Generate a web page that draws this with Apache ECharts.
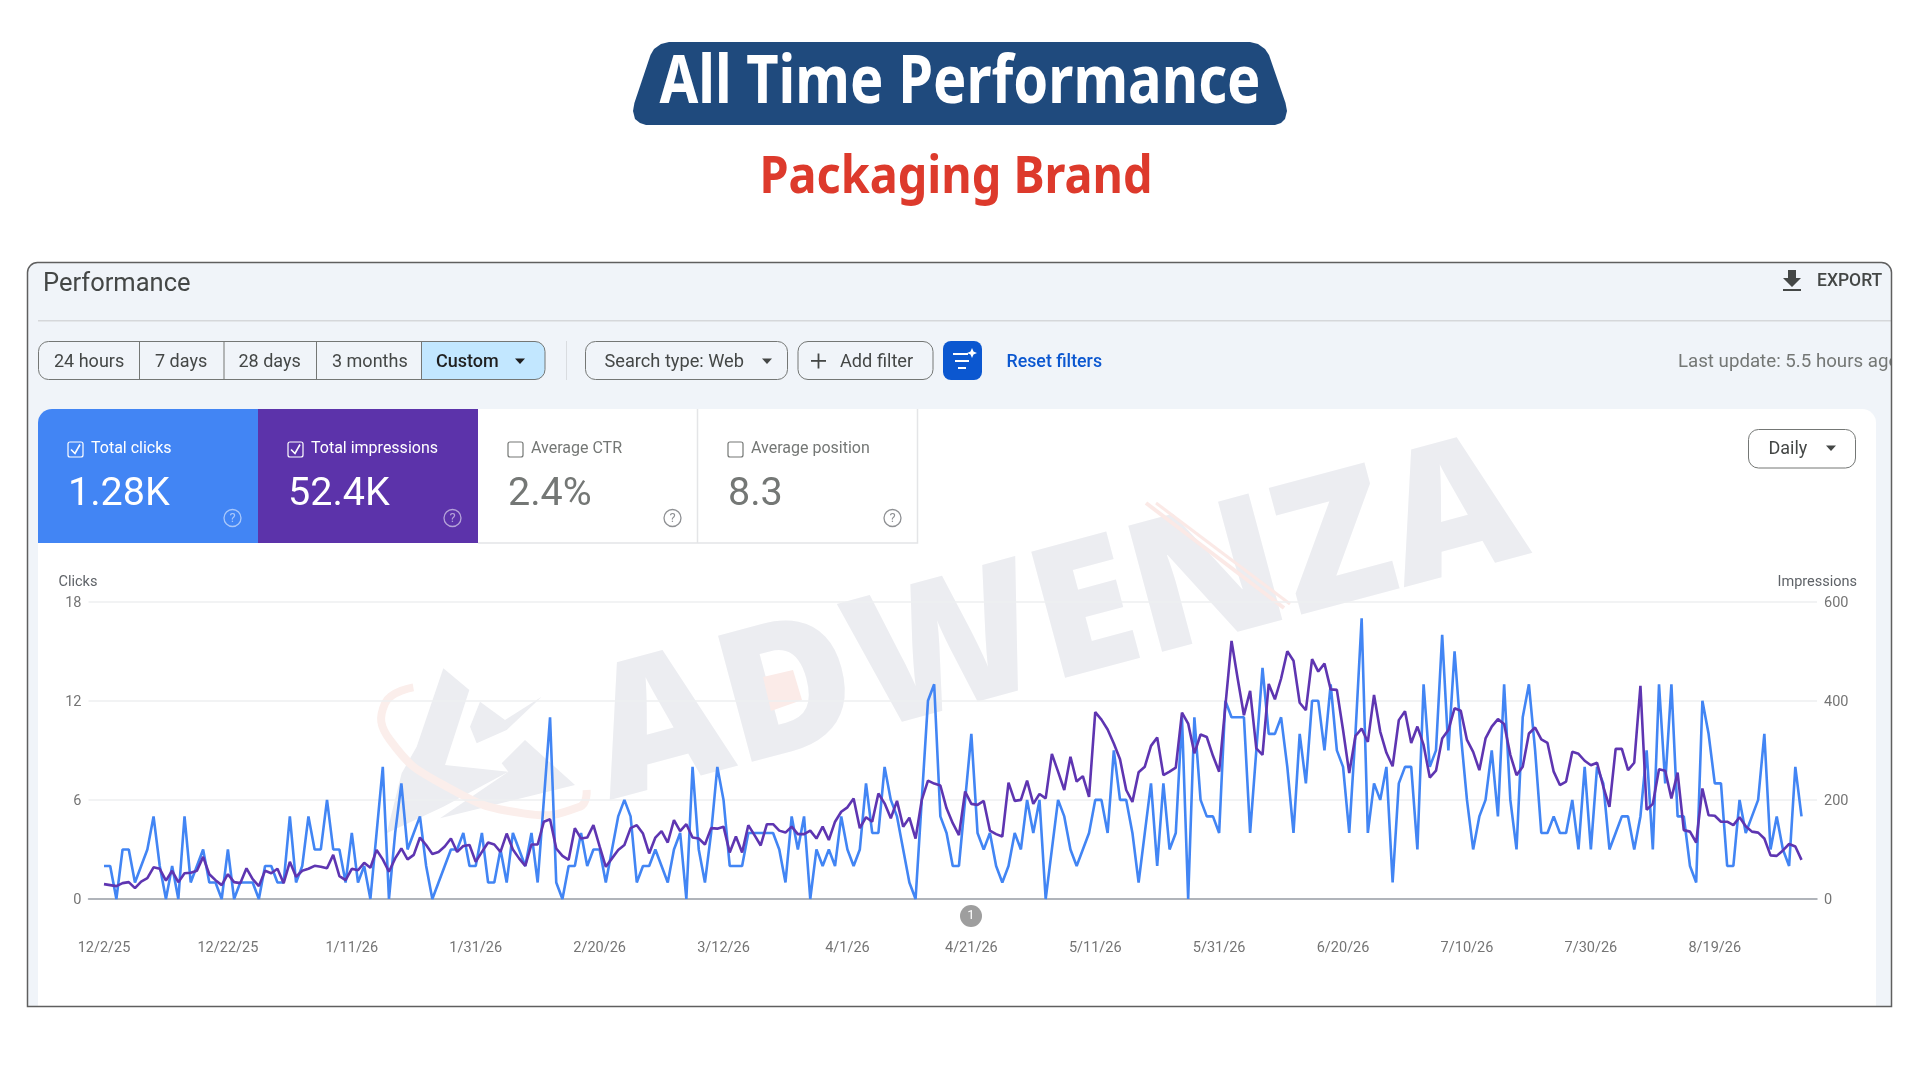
<!DOCTYPE html>
<html>
<head>
<meta charset="utf-8">
<title>All Time Performance</title>
<script src="https://cdn.jsdelivr.net/npm/echarts@6/dist/echarts.min.js"></script>
<style>
    html, body { margin: 0; padding: 0; background: #fff; }
    #chart { width: 1920px; height: 1080px; }
</style>
</head>
<body>
<div id="chart"></div>
<script>
// tick labels of the date axis, one every 20 days
const tickLabels = ['12/2/25', '12/22/25', '1/11/26', '1/31/26', '2/20/26', '3/12/26', '4/1/26', '4/21/26',
    '5/11/26', '5/31/26', '6/20/26', '7/10/26', '7/30/26', '8/19/26'];

// daily values, first one is 12/2/25
const clicks = [
    2, 2, 0, 3, 3, 1, 2, 3, 5, 2, 0, 2, 0, 5, 1, 2, 3, 1, 1, 0, 3, 0, 1, 1, 1, 0, 2, 2, 1, 1, 5, 1, 2, 5, 3, 3, 6, 3, 3, 1, 4, 1, 2, 0, 4, 8,
    0, 4, 7, 3, 4, 5, 2, 0, 1, 2, 3, 3, 4, 2, 2, 4, 1, 1, 3, 1, 4, 3, 2, 4, 1, 6, 11, 1, 0, 2, 2, 4, 2, 3, 3, 1, 3, 5, 6, 5, 1, 2, 2, 3, 2, 1,
    3, 4, 0, 8, 3, 1, 4, 8, 6, 2, 2, 2, 4, 4, 4, 4, 4, 3, 1, 5, 3, 5, 0, 3, 2, 3, 2, 5, 3, 2, 3, 7, 4, 4, 8, 6, 5, 3, 1, 0, 6, 12, 13, 5, 4, 2,
    2, 6, 10, 4, 3, 4, 2, 1, 2, 4, 3, 6, 4, 6, 0, 3, 6, 5, 3, 2, 3, 4, 6, 6, 4, 9, 6, 6, 4, 1, 4, 7, 2, 7, 3, 4, 11, 0, 11, 6, 5, 5, 4, 12, 11, 11,
    11, 4, 9, 14, 10, 10, 11, 8, 4, 10, 7, 12, 12, 9, 13, 9, 8, 4, 10, 17, 4, 7, 6, 8, 1, 7, 8, 8, 3, 13, 8, 9, 16, 9, 15, 10, 6, 3, 5, 6, 9, 5, 13, 6, 3, 11,
    13, 9, 4, 4, 5, 4, 4, 6, 3, 8, 3, 8, 7, 3, 4, 5, 5, 3, 5, 9, 3, 13, 7, 13, 5, 5, 2, 1, 12, 10, 7, 7, 2, 2, 6, 4, 5, 6, 10, 3, 5, 3, 2, 8, 5
];

const impressions = [
    30, 28, 26, 32, 34, 22, 35, 42, 64, 61, 37, 57, 34, 52, 53, 57, 85, 50, 38, 28, 50, 34, 32, 62, 40, 26, 57, 52, 61, 32, 75, 45, 57, 61, 67, 65, 62, 89, 46, 38, 61, 58, 73, 63, 99, 80,
    55, 82, 102, 80, 89, 124, 109, 91, 95, 106, 122, 95, 107, 109, 75, 95, 114, 110, 95, 132, 100, 82, 67, 110, 110, 156, 161, 102, 87, 79, 143, 122, 124, 149, 106, 65, 82, 99, 109, 143, 149, 132, 92, 124, 137, 114,
    159, 137, 151, 124, 122, 110, 143, 142, 146, 94, 126, 94, 149, 129, 108, 151, 151, 138, 134, 146, 131, 131, 138, 122, 146, 119, 156, 176, 185, 203, 143, 165, 156, 213, 193, 163, 198, 146, 164, 122, 200, 239, 233, 229, 183, 153,
    129, 217, 192, 190, 198, 138, 131, 126, 235, 198, 200, 239, 192, 212, 203, 293, 257, 220, 287, 237, 248, 206, 377, 362, 342, 314, 282, 220, 196, 256, 267, 309, 326, 250, 257, 265, 376, 354, 294, 332, 327, 289, 257, 389, 521, 444,
    371, 420, 304, 291, 434, 403, 445, 500, 481, 396, 381, 484, 459, 475, 423, 422, 341, 254, 329, 344, 317, 412, 338, 295, 268, 361, 379, 315, 348, 311, 245, 259, 324, 341, 385, 380, 321, 297, 260, 324, 348, 363, 353, 291, 250, 267,
    334, 346, 322, 315, 257, 230, 237, 297, 293, 279, 270, 275, 227, 186, 303, 303, 260, 275, 430, 180, 192, 262, 259, 203, 255, 139, 136, 114, 223, 169, 168, 156, 156, 149, 165, 147, 136, 134, 122, 88, 87, 98, 111, 106, 79
];

const CLICKS_COLOR = '#4285F4';
const IMPRESSIONS_COLOR = '#5E35B1';
const UI_FONT = 'Roboto, Arial, sans-serif';
const HEAD_FONT = '"Noto Sans", Roboto, sans-serif';

// two empty days on both sides, the gridlines run a bit past the first and last point
const pad = [null, null];
const days = ['', ''];
for (let i = 0; i < clicks.length; i++) {
    let d = new Date(2025, 11, 2 + i);
    days.push(`${d.getMonth() + 1}/${d.getDate()}/${String(d.getFullYear()).slice(2)}`);
}
days.push('', ' ');

const text = function (x, y, value, size, color, extra = {}) {
    return {
        type: 'text', x: x, y: y, z: extra.z || 5, silent: true,
        scaleX: extra.scaleX || 1,
        style: {
            text: value, fontSize: size, fill: color,
            fontFamily: extra.family || UI_FONT,
            fontWeight: extra.weight || 'normal',
            textAlign: extra.align || 'left',
            textVerticalAlign: 'middle'
        }
    };
};

const box = function (x, y, w, h, fill, extra = {}) {
    return {
        type: 'rect', z: extra.z || 3, silent: true,
        shape: { x: x, y: y, width: w, height: h, r: extra.r || 0 },
        style: { fill: fill, stroke: extra.stroke || null, lineWidth: extra.lineWidth || 1 }
    };
};

const poly = function (points, fill, z = 5) {
    return { type: 'polygon', z: z, silent: true, shape: { points: points }, style: { fill: fill } };
};

const line = function (points, stroke, width, z = 5, smooth = 0) {
    return {
        type: 'polyline', z: z, silent: true, shape: { points: points, smooth: smooth },
        style: { stroke: stroke, lineWidth: width, fill: null }
    };
};

const caret = function (x, y, color) {
    return poly([[x - 5, y - 2.5], [x + 5, y - 2.5], [x, y + 3]], color);
};

// metric tile at the top of the white panel
const tile = function (x, fill, label, value, checked) {
    let textColor = checked ? '#fff' : '#747775';
    let faint = checked ? 'rgba(255,255,255,0.55)' : '#8f9194';
    let items = [];
    if (checked) {
        items.push(box(x, 409, 220, 134, fill, { r: x < 100 ? [14, 0, 0, 0] : 0 }));
        items.push(line([[x + 33, 449.5], [x + 37, 453.5], [x + 42, 444.5]], '#fff', 1.6));
    } else {
        items.push(box(x, 409, 220, 134, '#fff'));
        items.push(line([[x + 219.5, 409], [x + 219.5, 543], [x, 543]], '#E4E5E7', 1.5, 4));
    }
    items.push(box(x + 30, 442, 15, 15, 'transparent', { r: 2, stroke: checked ? '#fff' : '#747775', lineWidth: 1.2, z: 5 }));
    items.push(text(x + 53, 449, label, 16, textColor));
    items.push(text(x + 30, 495, value, 39.5, textColor));
    items.push({
        type: 'circle', z: 5, silent: true, shape: { cx: x + 194.5, cy: 518, r: 8.5 },
        style: { fill: 'transparent', stroke: faint, lineWidth: 1.3 }
    });
    items.push(text(x + 194.5, 518.5, '?', 13, faint, { align: 'center' }));
    return items;
};

const buildGraphic = function () {
    let g = [];

    // headline
    g.push(poly([[669, 42], [1250, 42], [1258, 44], [1265, 49], [1269, 55], [1285.5, 103], [1287, 111], [1285, 119], [1281, 123], [1275, 125],
        [646, 125], [640, 123], [635, 119], [633, 111], [634.4, 103], [650.5, 55], [654, 49], [661, 44]], '#1F4A7D'));
    g.push(text(960, 84, 'All Time Performance', 66, '#fff', { align: 'center', weight: 'bold', scaleX: 0.85, family: HEAD_FONT }));
    g.push(text(956, 178, 'Packaging Brand', 52, '#DD3A2C', { align: 'center', weight: 'bold', scaleX: 0.9, family: HEAD_FONT }));

    // panel background
    g.push(box(27.5, 262.5, 1864, 744, '#F0F4F9', { r: [10, 10, 0, 0], z: -30 }));
    g.push(box(38, 409, 1838, 597, '#fff', { r: [14, 14, 0, 0], z: -29 }));
    g.push(box(38, 320, 1854, 1.5, '#D5D7DA'));
    g.push(text(43, 285, 'Performance', 25.5, '#444746'));

    // export
    g.push(poly([[1788, 270], [1796, 270], [1796, 278], [1801, 278], [1792, 287], [1783, 278], [1788, 278]], '#444746'));
    g.push(box(1783, 289, 18, 2, '#444746'));
    g.push(text(1817, 282, 'EXPORT', 17.5, '#444746', { weight: 500 }));

    // date range pills
    g.push(box(38.5, 341.5, 506.5, 38, 'transparent', { r: 10, stroke: '#747775', z: 5 }));
    g.push({
        type: 'rect', z: 3, silent: true, shape: { x: 421, y: 341.5, width: 124, height: 38, r: [0, 10, 10, 0] },
        style: { fill: '#C2E7FF' }
    });
    [139, 223.5, 316, 421].forEach(x => g.push(box(x, 342, 1, 37, '#747775')));
    g.push(text(54, 362, '24 hours', 18, '#444746'));
    g.push(text(155, 362, '7 days', 18, '#444746'));
    g.push(text(238.5, 362, '28 days', 18, '#444746'));
    g.push(text(332, 362, '3 months', 18, '#444746'));
    g.push(text(436, 362, 'Custom', 18, '#1f1f1f', { weight: 500 }));
    g.push(caret(520, 361, '#1f1f1f'));
    g.push(box(566, 341, 1, 39, '#D9DCE0'));

    // filters
    g.push(box(585.5, 341.5, 202, 38, 'transparent', { r: 10, stroke: '#747775', z: 5 }));
    g.push(text(604.5, 362, 'Search type: Web', 18.2, '#444746'));
    g.push(caret(767, 361, '#444746'));
    g.push(box(798, 341.5, 135, 38, 'transparent', { r: 10, stroke: '#747775', z: 5 }));
    g.push(box(811, 360, 15, 1.8, '#444746'));
    g.push(box(817.6, 353.5, 1.8, 15, '#444746'));
    g.push(text(840, 362, 'Add filter', 18.2, '#444746'));
    g.push(box(943, 341, 39, 39, '#0B57D0', { r: 8 }));
    g.push(box(953, 353, 15, 2, '#fff'));
    g.push(box(955, 360, 14, 2, '#fff'));
    g.push(box(958, 367, 8, 2, '#fff'));
    g.push(poly([[972, 348], [973.5, 351.5], [977, 353], [973.5, 354.5], [972, 358], [970.5, 354.5], [967, 353], [970.5, 351.5]], '#fff'));
    g.push(text(1006.5, 362.5, 'Reset filters', 17.8, '#0B57D0', { weight: 500 }));
    g.push(text(1678, 362, 'Last update: 5.5 hours ago', 18.7, '#747775'));

    // tiles
    g.push(...tile(38, CLICKS_COLOR, 'Total clicks', '1.28K', true));
    g.push(...tile(258, '#5C33AA', 'Total impressions', '52.4K', true));
    g.push(...tile(478, '#fff', 'Average CTR', '2.4%', false));
    g.push(...tile(698, '#fff', 'Average position', '8.3', false));

    // granularity button
    g.push(box(1748.5, 429.5, 107, 38.5, '#fff', { r: 10, stroke: '#747775' }));
    g.push(text(1768.5, 449.5, 'Daily', 18, '#444746'));
    g.push(caret(1831, 448, '#444746'));

    // watermark
    g.push({
        type: 'text', z: -20, silent: true, x: 620, y: 838, rotation: 15 * Math.PI / 180,
        style: {
            text: 'ADWENZA', fontSize: 183, fill: '#ECEDF1', fontWeight: 800,
            fontFamily: '"Open Sans", sans-serif', textAlign: 'left', textVerticalAlign: 'bottom'
        }
    });
    const logo = p => p.map(c => [380 + c[0] / 3, 600 + c[1] / 3]);
    g.push(poly(logo([[190, 205], [268, 270], [195, 495], [385, 515], [190, 620], [20, 700], [65, 520], [110, 440]]), '#ECEDF1', -19));
    g.push(poly(logo([[300, 305], [375, 360], [485, 290], [380, 390], [290, 430], [270, 380]]), '#ECEDF1', -19));
    g.push(poly(logo([[435, 420], [585, 555], [180, 655], [385, 515], [365, 490]]), '#ECEDF1', -19));
    g.push(line(logo([[100, 262], [15, 310], [30, 420], [200, 560], [430, 640], [600, 620], [620, 570]]), '#FBEEEB', 8, -18, 0.5));
    g.push(poly([[763, 677], [793, 670], [802, 700], [771, 711]], '#FBEBE8', -18));
    g.push(line([[1146, 503], [1284, 608]], '#FBE9E6', 4, -18));
    g.push(line([[1156, 503], [1290, 604]], '#FBE9E6', 3, -18));

    // annotation under the axis
    g.push({
        type: 'circle', z: 5, silent: true, shape: { cx: 971, cy: 916, r: 11 },
        style: { fill: '#9E9E9E' }
    });
    g.push(text(971, 916, '1', 13, '#fff', { align: 'center' }));

    // frame last, it cuts the text running out on the right
    g.push(box(1892, 320, 28, 80, '#fff', { z: 8 }));
    g.push(box(27.5, 262.5, 1864, 744, 'transparent', { r: [10, 10, 0, 0], stroke: '#5f5f5f', lineWidth: 1.5, z: 9 }));
    return g;
};

const initChart = function () {
    const chart = echarts.init(document.getElementById('chart'), null, { renderer: 'canvas' });
    chart.setOption({
        animation: false,
        backgroundColor: '#fff',
        textStyle: { fontFamily: UI_FONT },
        graphic: { elements: buildGraphic() },
        grid: { left: 88.5, right: 103, top: 601.7, bottom: 181 },
        xAxis: {
            type: 'category',
            data: days,
            boundaryGap: true,
            axisLine: { show: true, onZero: true, lineStyle: { color: '#9AA0A6', width: 1.5 } },
            axisTick: { show: false },
            axisLabel: {
                interval: (index, value) => tickLabels.includes(value),
                color: '#757575',
                fontSize: 14.5,
                margin: 42
            }
        },
        yAxis: [{
            type: 'value',
            min: 0,
            max: 18,
            interval: 6,
            name: 'Clicks',
            nameGap: 12,
            nameTextStyle: { color: '#5f6368', fontSize: 14.5, align: 'left', padding: [0, 0, 0, -30] },
            axisLine: { show: false },
            axisTick: { show: false },
            axisLabel: { color: '#757575', fontSize: 14.5, margin: 7, verticalAlign: 'top', lineHeight: 3 },
            splitLine: { lineStyle: { color: '#EEEFF1', width: 1.5 } }
        }, {
            type: 'value',
            min: 0,
            max: 600,
            interval: 200,
            name: 'Impressions',
            nameGap: 12,
            nameTextStyle: { color: '#5f6368', fontSize: 14.5, align: 'right', padding: [0, -40, 0, 0] },
            axisLine: { show: false },
            axisTick: { show: false },
            axisLabel: { color: '#757575', fontSize: 14.5, margin: 7, verticalAlign: 'top', lineHeight: 3 },
            splitLine: { show: false }
        }],
        series: [{
            name: 'Clicks',
            type: 'line',
            yAxisIndex: 0,
            data: [...pad, ...clicks, ...pad],
            showSymbol: false,
            connectNulls: false,
            lineStyle: { color: CLICKS_COLOR, width: 2.6 }
        }, {
            name: 'Impressions',
            type: 'line',
            yAxisIndex: 1,
            data: [...pad, ...impressions, ...pad],
            showSymbol: false,
            connectNulls: false,
            lineStyle: { color: IMPRESSIONS_COLOR, width: 2.6 }
        }]
    });
};

initChart();
</script>
</body>
</html>
